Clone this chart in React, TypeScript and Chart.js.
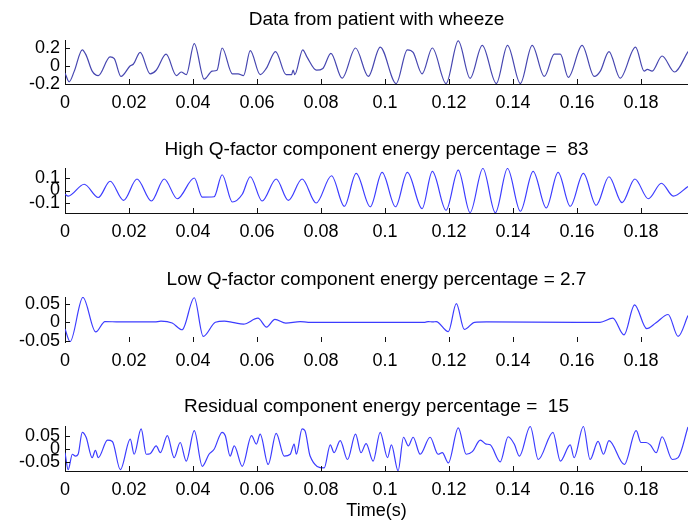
import React, { useEffect, useRef } from "react";
import { Chart, registerables } from "chart.js";

Chart.register(...registerables);

// ---------- data ----------
const rawTime = [0, 0.0013, 0.0029, 0.0054, 0.0066, 0.0085, 0.0104, 0.0141, 0.0154, 0.0175, 0.0204, 0.0214, 0.0235, 0.0266, 0.0285, 0.0316, 0.0348, 0.0363, 0.0379, 0.0404, 0.0435, 0.046, 0.0475, 0.0491, 0.0523, 0.0541, 0.0558, 0.0579, 0.061, 0.0629, 0.0658, 0.0691, 0.0708, 0.0713, 0.0718, 0.0743, 0.0756, 0.0786, 0.0806, 0.0831, 0.0866, 0.0908, 0.0948, 0.0985, 0.1035, 0.107, 0.1088, 0.1116, 0.1148, 0.1191, 0.1229, 0.1266, 0.1304, 0.1348, 0.1383, 0.1423, 0.146, 0.1498, 0.1529, 0.1548, 0.1573, 0.1616, 0.1654, 0.1673, 0.17, 0.1735, 0.1783, 0.181, 0.182, 0.1835, 0.1866, 0.1905, 0.1947];
const rawValue = [-0.08, -0.18, -0.06, 0.18, 0.12, -0.06, -0.11, 0.1, 0.08, -0.12, 0.0, 0.02, 0.15, -0.09, -0.05, 0.13, -0.11, -0.07, -0.1, 0.25, -0.15, -0.06, -0.05, 0.2, -0.09, -0.09, -0.11, 0.17, -0.1, -0.03, 0.16, -0.1, -0.1, -0.05, -0.1, 0.18, 0.1, -0.05, -0.03, 0.14, -0.14, 0.2, -0.12, 0.21, -0.2, 0.18, 0.15, -0.09, 0.2, -0.2, 0.28, -0.14, 0.23, -0.2, 0.23, -0.2, 0.23, -0.12, 0.13, 0.13, -0.13, 0.23, -0.12, -0.06, 0.16, -0.14, 0.21, -0.06, -0.04, -0.06, 0.11, -0.07, 0.16];

const highTime = [0, 0.001, 0.006, 0.0104, 0.0141, 0.0183, 0.0225, 0.027, 0.031, 0.0351, 0.0404, 0.0429, 0.0466, 0.0491, 0.0523, 0.0554, 0.0579, 0.0616, 0.066, 0.0698, 0.0741, 0.0785, 0.0833, 0.0873, 0.091, 0.0954, 0.0991, 0.1033, 0.107, 0.1116, 0.1148, 0.1191, 0.1229, 0.1266, 0.1306, 0.1345, 0.1383, 0.1423, 0.1463, 0.1504, 0.1541, 0.1579, 0.162, 0.166, 0.17, 0.1741, 0.1781, 0.1823, 0.1864, 0.1901, 0.1947];
const highValue = [-0.03, -0.045, 0.05, -0.056, 0.074, -0.079, 0.092, -0.084, 0.092, -0.066, 0.1, -0.053, -0.05, 0.126, -0.092, -0.03, 0.11, -0.084, 0.092, -0.079, 0.092, -0.1, 0.118, -0.126, 0.137, -0.13, 0.145, -0.13, 0.145, -0.145, 0.153, -0.158, 0.163, -0.176, 0.176, -0.179, 0.176, -0.166, 0.153, -0.14, 0.145, -0.126, 0.137, -0.118, 0.11, -0.097, 0.092, -0.066, 0.058, -0.045, 0.032];

const lowTime = [0, 0.0016, 0.0056, 0.0096, 0.0125, 0.017, 0.028, 0.03, 0.0335, 0.0366, 0.0404, 0.0432, 0.047, 0.0498, 0.0523, 0.0558, 0.0603, 0.063, 0.0656, 0.069, 0.0735, 0.076, 0.1125, 0.1135, 0.115, 0.116, 0.1198, 0.1223, 0.1248, 0.128, 0.1318, 0.16, 0.1672, 0.1712, 0.1747, 0.178, 0.1818, 0.1846, 0.1885, 0.1916, 0.1947];
const lowValue = [-0.018, -0.052, 0.067, -0.026, 0.002, 0.001, 0.001, 0.003, -0.002, -0.02, 0.066, -0.038, 0.0, 0.003, 0.0, -0.005, 0.011, -0.013, 0.008, -0.002, 0.002, 0.0, 0.0, 0.002, 0.001, 0.002, -0.025, 0.05, -0.019, 0.0, 0.001, 0.0, 0.0, 0.011, -0.034, 0.047, -0.017, -0.002, 0.021, -0.038, 0.018];

const resTime = [0, 0.001, 0.0023, 0.0033, 0.0041, 0.0054, 0.0066, 0.0085, 0.0095, 0.0104, 0.0133, 0.0148, 0.0173, 0.0204, 0.0216, 0.0238, 0.0254, 0.0266, 0.0285, 0.0298, 0.032, 0.0341, 0.036, 0.0379, 0.0404, 0.0429, 0.045, 0.0466, 0.0491, 0.0501, 0.0516, 0.0529, 0.0554, 0.0583, 0.0598, 0.061, 0.0635, 0.066, 0.0685, 0.0704, 0.0716, 0.0723, 0.0741, 0.075, 0.0766, 0.081, 0.0829, 0.0841, 0.086, 0.0883, 0.0908, 0.0925, 0.0941, 0.0963, 0.0985, 0.1008, 0.102, 0.1041, 0.1058, 0.1073, 0.1088, 0.111, 0.1141, 0.1166, 0.1179, 0.1198, 0.1229, 0.1254, 0.1273, 0.1298, 0.1316, 0.1329, 0.136, 0.1385, 0.1404, 0.142, 0.1454, 0.1479, 0.1525, 0.1548, 0.1579, 0.1591, 0.162, 0.1641, 0.1666, 0.1683, 0.17, 0.1748, 0.1785, 0.18, 0.1816, 0.1829, 0.1848, 0.1866, 0.1898, 0.1916, 0.1947];
const resValue = [-0.015, -0.08, -0.021, -0.028, -0.021, 0.063, 0.044, -0.034, -0.006, -0.034, 0.033, 0.028, -0.08, 0.037, -0.021, 0.076, -0.021, -0.019, 0.011, -0.015, 0.05, -0.034, 0.024, -0.047, 0.069, -0.067, -0.021, -0.002, 0.063, 0.05, -0.028, 0.011, -0.067, 0.05, 0.018, 0.056, -0.06, 0.059, -0.028, -0.021, 0.018, -0.021, 0.076, 0.069, -0.028, -0.073, 0.015, -0.015, 0.031, -0.041, 0.056, -0.015, 0.02, -0.047, 0.063, -0.034, 0.015, -0.084, 0.044, 0.011, 0.044, -0.021, 0.044, -0.021, -0.015, -0.054, 0.08, -0.021, -0.011, 0.033, 0.018, 0.015, -0.05, 0.046, 0.018, -0.028, 0.085, -0.041, 0.063, -0.047, 0.015, -0.034, 0.085, -0.041, 0.028, -0.021, 0.031, -0.06, 0.069, 0.024, 0.024, 0.015, -0.015, 0.046, -0.041, -0.034, 0.083];

const xTicks = [0, 0.02, 0.04, 0.06, 0.08, 0.1, 0.12, 0.14, 0.16, 0.18];
const rawYTicks = [-0.2, 0, 0.2];
const highYTicks = [-0.1, 0, 0.1];
const lowYTicks = [-0.05, 0, 0.05];
const resYTicks = [-0.05, 0, 0.05];

const titles = [
  "Data from patient with wheeze",
  "High Q-factor component energy percentage =  83",
  "Low Q-factor component energy percentage = 2.7",
  "Residual component energy percentage =  15",
];
const xAxisTitle = "Time(s)";

// ---------- styling ----------
const X_MAX = 0.1947;
const FONT = '"Liberation Sans", Arial, Helvetica, sans-serif';
const AXIS = "#111";
const W = 688;
const H = 131;

const fmt = (v: number) => String(Number(Number(v).toFixed(3)));

const decor = {
  id: "panelDecor",
  afterDraw(chart: any, _args: any, opts: any) {
    const { ctx, chartArea } = chart;
    const xs = chart.scales.x;
    const ys = chart.scales.y;
    ctx.save();
    ctx.strokeStyle = AXIS;
    ctx.lineWidth = 1;
    ctx.beginPath();
    xTicks.forEach((v) => {
      const px = Math.round(xs.getPixelForValue(v)) + 0.5;
      ctx.moveTo(px, chartArea.bottom);
      ctx.lineTo(px, chartArea.bottom - 5);
    });
    (opts.yTicks as number[]).forEach((v) => {
      const py = Math.round(ys.getPixelForValue(v)) + 0.5;
      ctx.moveTo(chartArea.left, py);
      ctx.lineTo(chartArea.left + 5, py);
    });
    ctx.stroke();
    ctx.fillStyle = "#000";
    ctx.textAlign = "center";
    ctx.textBaseline = "alphabetic";
    ctx.font = `19px ${FONT}`;
    const cx = (chartArea.left + chartArea.right) / 2;
    ctx.fillText(opts.title, cx, opts.titleY);
    if (opts.xLabel) {
      ctx.font = `18px ${FONT}`;
      ctx.fillText(opts.xLabel, cx, opts.xLabelY);
    }
    ctx.restore();
  },
};

type PanelProps = {
  time: number[];
  values: number[];
  yTicks: number[];
  yMin: number;
  yMax: number;
  title: string;
  color: string;
  top: number;
  padTop: number;
  xAxisHeight: number;
  showXLine: boolean;
  titleY: number;
  xLabel?: string;
  xLabelY?: number;
};

function Panel(p: PanelProps) {
  const ref = useRef<HTMLCanvasElement | null>(null);
  useEffect(() => {
    const canvas = ref.current;
    if (!canvas) return;
    const data = p.time.map((t, i) => ({ x: t, y: p.values[i] }));
    const chart = new Chart(canvas, {
      type: "line",
      data: {
        datasets: [
          {
            data,
            borderColor: p.color,
            borderWidth: 1.2,
            pointRadius: 0,
            cubicInterpolationMode: "monotone",
            fill: false,
          },
        ],
      },
      options: {
        animation: false,
        responsive: false,
        devicePixelRatio: 1,
        layout: { padding: { top: p.padTop, left: 0, right: 0, bottom: 0 } },
        plugins: {
          legend: { display: false },
          tooltip: { enabled: false },
          title: { display: false },
          panelDecor: {
            title: p.title,
            titleY: p.titleY,
            yTicks: p.yTicks,
            xLabel: p.xLabel,
            xLabelY: p.xLabelY,
          },
        } as any,
        scales: {
          x: {
            type: "linear",
            min: 0,
            max: X_MAX,
            afterBuildTicks: (s: any) => {
              s.ticks = xTicks.map((v) => ({ value: v }));
            },
            afterFit: (s: any) => {
              s.height = p.xAxisHeight;
            },
            grid: { display: false, drawTicks: false },
            border: { display: p.showXLine, color: AXIS, width: 1 },
            ticks: {
              autoSkip: false,
              maxRotation: 0,
              minRotation: 0,
              padding: 8,
              color: "#000",
              font: { family: FONT, size: 18 },
              callback: (v: any) => fmt(v),
            },
          },
          y: {
            type: "linear",
            min: p.yMin,
            max: p.yMax,
            afterBuildTicks: (s: any) => {
              s.ticks = p.yTicks.map((v) => ({ value: v }));
            },
            afterFit: (s: any) => {
              s.width = 65;
            },
            grid: { display: false, drawTicks: false },
            border: { display: true, color: AXIS, width: 1 },
            ticks: {
              autoSkip: false,
              padding: 5,
              color: "#000",
              font: { family: FONT, size: 18 },
              callback: (v: any) => fmt(v),
            },
          },
        },
      },
      plugins: [decor],
    } as any);
    return () => chart.destroy();
  }, []);
  return (
    <div style={{ position: "absolute", left: 0, top: p.top, width: W, height: H }}>
      <canvas ref={ref} width={W} height={H} style={{ display: "block", width: W, height: H }} />
    </div>
  );
}

export default function App() {
  return (
    <div
      style={{
        position: "absolute",
        left: 0,
        top: 0,
        width: W,
        height: 524,
        background: "#fff",
        overflow: "hidden",
      }}
    >
      <Panel time={rawTime} values={rawValue} yTicks={rawYTicks} yMin={-0.205} yMax={0.29} title={titles[0]} color="#4646b0" top={0} padTop={40} xAxisHeight={47} showXLine={true} titleY={25} />
      <Panel time={highTime} values={highValue} yTicks={highYTicks} yMin={-0.18} yMax={0.18} title={titles[1]} color="#3c3cff" top={131} padTop={37} xAxisHeight={49} showXLine={true} titleY={24} />
      <Panel time={lowTime} values={lowValue} yTicks={lowYTicks} yMin={-0.053} yMax={0.068} title={titles[2]} color="#3c3cff" top={262} padTop={35} xAxisHeight={51} showXLine={false} titleY={23} />
      <Panel time={resTime} values={resValue} yTicks={resYTicks} yMin={-0.085} yMax={0.087} title={titles[3]} color="#3c3cff" top={393} padTop={33} xAxisHeight={53} showXLine={true} titleY={19} xLabel={xAxisTitle} xLabelY={123} />
    </div>
  );
}
